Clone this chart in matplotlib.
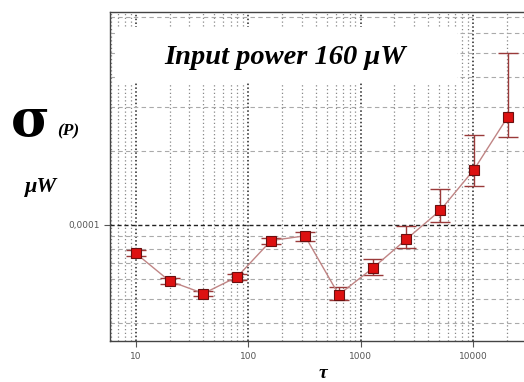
import matplotlib
matplotlib.use("Agg")
import matplotlib.pyplot as plt
from matplotlib.patches import Rectangle
from matplotlib.ticker import LogLocator, FixedLocator, NullFormatter
import numpy as np

# averaging time tau and Allan deviation (in units of 1e-4 uW)
tau = [10, 20, 40, 80, 160, 320, 640, 1280, 2560, 5120, 10240, 20480]
sigma = [0.766, 0.591, 0.526, 0.615, 0.863, 0.902, 0.520, 0.666, 0.874, 1.144, 1.677, 2.75]
sigma_lo = [0.745, 0.574, 0.512, 0.598, 0.834, 0.863, 0.497, 0.623, 0.808, 1.031, 1.443, 2.27]
sigma_hi = [0.788, 0.608, 0.541, 0.633, 0.888, 0.934, 0.557, 0.724, 0.993, 1.403, 2.31, 4.99]

scale = 1e-4
y = np.array(sigma) * scale
yerr = [y - np.array(sigma_lo) * scale, np.array(sigma_hi) * scale - y]

fig = plt.figure(figsize=(5.24, 3.82), dpi=100)
ax = fig.add_axes([0.21, 0.107, 0.79, 0.861])
ax.set_xscale("log")
ax.set_yscale("log")
ax.set_xlim(5.9, 28500)
ax.set_ylim(3.37e-5, 7.3e-4)

# grid
ax.xaxis.set_minor_locator(LogLocator(base=10, subs=np.arange(2, 10)))
ax.yaxis.set_major_locator(FixedLocator([1e-4]))
ax.yaxis.set_minor_locator(LogLocator(base=10, subs=np.arange(2, 10)))
ax.yaxis.set_minor_formatter(NullFormatter())
ax.xaxis.set_minor_formatter(NullFormatter())
ax.grid(True, which="major", axis="x", color="#222222", linestyle=(0, (1, 1.5)), lw=1.1)
ax.grid(True, which="minor", axis="x", color="#888888", linestyle=(0, (1, 2)), lw=0.9)
ax.grid(True, which="major", axis="y", color="#222222", linestyle=(0, (3, 2)), lw=1.0)
ax.grid(True, which="minor", axis="y", color="#aaaaaa", linestyle=(0, (4, 3)), lw=0.8)
ax.set_axisbelow(True)

ax.set_xticks([10, 100, 1000, 10000])
ax.set_xticklabels(["10", "100", "1000", "10000"])
ax.set_yticklabels(["0,0001"])
ax.tick_params(which="major", labelsize=6.5, labelcolor="#555555", length=4, color="#555555")
ax.tick_params(which="minor", length=0)

for s in ["left", "bottom", "top"]:
    ax.spines[s].set_color("#444444")
    ax.spines[s].set_linewidth(1.0)
ax.spines["right"].set_visible(False)

# title box covering the grid
ax.add_patch(Rectangle((0.012, 0.785), 0.826, 0.17, transform=ax.transAxes,
                       facecolor="white", edgecolor="none", zorder=2))
ax.text(0.423, 0.862, "Input power 160 μW", transform=ax.transAxes,
        ha="center", va="center", fontsize=20.5, fontweight="bold", fontstyle="italic",
        family="Liberation Serif", zorder=3)

ax.errorbar(tau, y, yerr=yerr, fmt="none", ecolor="#9a3a3a", elinewidth=1.0,
            capsize=7.5, capthick=1.0, zorder=4)
ax.plot(tau, y, color="#c08585", lw=1.0, zorder=5)
ax.plot(tau, y, ls="none", marker="s", markersize=6.5, markerfacecolor="#dd1111",
        markeredgecolor="#6a1010", markeredgewidth=0.8, zorder=6)

# axis labels
fig.text(0.02, 0.683, "σ", fontsize=38, fontweight="bold", family="DejaVu Serif",
         ha="left", va="center")
fig.text(0.11, 0.655, "(P)", fontsize=12.5, fontweight="bold", fontstyle="italic",
         family="Liberation Serif", ha="left", va="center")
fig.text(0.047, 0.51, "μW", fontsize=16, fontweight="bold", fontstyle="italic",
         family="Liberation Serif", ha="left", va="center")
fig.text(0.616, 0.0, "τ", fontsize=14, fontweight="bold", fontstyle="italic",
         family="Liberation Serif", ha="center", va="bottom")

fig.savefig("out.png", dpi=100)
